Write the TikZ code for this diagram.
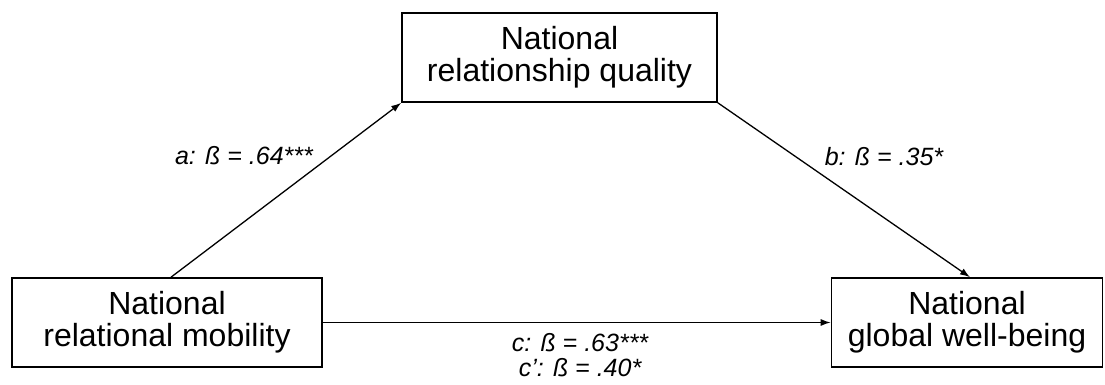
\documentclass[tikz,border=0pt]{standalone}
\usepackage{fontspec}
\setmainfont{Liberation Sans}
\usetikzlibrary{arrows.meta}
\begin{document}
\begin{tikzpicture}[x=1pt,y=-1pt,
  varbox/.style={draw,line width=1.6pt,minimum width=#1,minimum height=89pt,inner sep=0pt,align=center,
    font=\fontsize{32}{32}\selectfont},
  path/.style={line width=1.3pt,-{Latex[length=10pt,width=7pt]}},
  coef/.style={font=\fontsize{25}{25}\selectfont\itshape,inner sep=0pt,align=center}]
\useasboundingbox (0,0) rectangle (1105,385);
\node[varbox=315pt] (T) at (559.5,57.5) {National\\relationship quality};
\node[varbox=310pt] (L) at (167,322.5) {National\\relational mobility};
\node[varbox=271pt] (R) at (967,322.5) {National\\global well-being};
\draw[path] ([xshift=4pt]L.north) -- (T.south west);
\draw[path] (T.south east) -- ([xshift=3pt]R.north);
\draw[path] (L.east) -- (R.west);
\node[coef] (la) at (244,156) {a: ß = .64***};
\node[coef] (lb) at (884,157) {b: ß = .35*};
\node[coef] (lc) at (580,343) {c: ß = .63***};
\node[coef] (lc2) at (580,368) {c’: ß = .40*};
\end{tikzpicture}
\end{document}
